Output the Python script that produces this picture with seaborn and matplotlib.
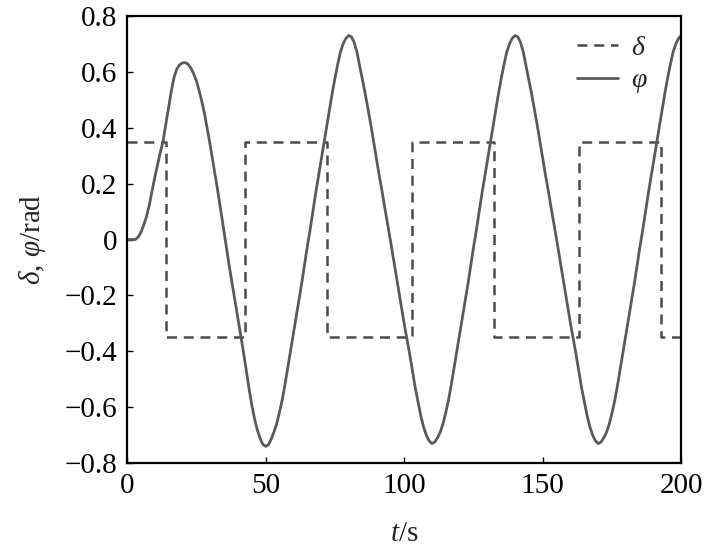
import numpy as np
import pandas as pd
import matplotlib
matplotlib.use("Agg")
import matplotlib.pyplot as plt
import seaborn as sns

# rudder angle: switching times (s) and levels (rad), step-wise
delta_t = [0, 14.0, 42.6, 72.3, 102.8, 132.5, 163.0, 192.8, 200]
delta_v = [0.35, -0.35, 0.35, -0.35, 0.35, -0.35, 0.35, -0.35, -0.35]

# heading angle, every 1 s (t = 0..200)
phi_t = list(range(0, 201))
phi_v = [
    0.0, 0.0, 0.0, 0.0, 0.008, 0.025, 0.05, 0.08, 0.12, 0.17,
    0.22, 0.265, 0.31, 0.35, 0.41, 0.47, 0.53, 0.58, 0.61, 0.625,
    0.632, 0.633, 0.628, 0.615, 0.595, 0.57, 0.535, 0.495, 0.45, 0.395,
    0.34, 0.28, 0.22, 0.16, 0.095, 0.03, -0.035, -0.1, -0.16, -0.22,
    -0.28, -0.34, -0.40, -0.465, -0.53, -0.59, -0.64, -0.68, -0.71, -0.733,
    -0.74, -0.735, -0.715, -0.69, -0.66, -0.62, -0.575, -0.52, -0.46, -0.40,
    -0.34, -0.28, -0.22, -0.16, -0.095, -0.03, 0.03, 0.095, 0.16, 0.22,
    0.28, 0.34, 0.40, 0.46, 0.52, 0.575, 0.625, 0.67, 0.70, 0.72,
    0.73, 0.725, 0.705, 0.67, 0.62, 0.57, 0.52, 0.465, 0.41, 0.35,
    0.29, 0.23, 0.175, 0.115, 0.058, 0.0, -0.06, -0.12, -0.18, -0.24,
    -0.30, -0.355, -0.41, -0.47, -0.53, -0.58, -0.63, -0.67, -0.70, -0.72,
    -0.73, -0.725, -0.71, -0.69, -0.66, -0.62, -0.575, -0.52, -0.46, -0.40,
    -0.34, -0.28, -0.22, -0.16, -0.095, -0.03, 0.03, 0.095, 0.16, 0.22,
    0.28, 0.34, 0.40, 0.46, 0.52, 0.575, 0.625, 0.67, 0.70, 0.72,
    0.73, 0.725, 0.705, 0.67, 0.62, 0.57, 0.52, 0.465, 0.41, 0.35,
    0.29, 0.23, 0.175, 0.115, 0.058, 0.0, -0.06, -0.12, -0.18, -0.24,
    -0.30, -0.355, -0.41, -0.47, -0.53, -0.58, -0.63, -0.67, -0.70, -0.72,
    -0.73, -0.725, -0.71, -0.69, -0.66, -0.62, -0.575, -0.52, -0.46, -0.40,
    -0.34, -0.28, -0.22, -0.16, -0.095, -0.03, 0.03, 0.095, 0.16, 0.22,
    0.28, 0.34, 0.40, 0.46, 0.52, 0.575, 0.625, 0.67, 0.70, 0.72,
    0.73,
]

x_ticks = [0, 50, 100, 150, 200]
y_ticks = [-0.8, -0.6, -0.4, -0.2, 0, 0.2, 0.4, 0.6, 0.8]
y_ticklabels = ["\u22120.8", "\u22120.6", "\u22120.4", "\u22120.2", "0",
                "0.2", "0.4", "0.6", "0.8"]

sns.set_theme(style="white")
plt.rcParams["font.family"] = ["Liberation Serif", "DejaVu Serif"]
plt.rcParams["mathtext.fontset"] = "custom"
plt.rcParams["mathtext.rm"] = "Liberation Serif"
plt.rcParams["mathtext.it"] = "Liberation Serif:italic"

df_delta = pd.DataFrame({"t": delta_t, "v": delta_v})
df_phi = pd.DataFrame({"t": phi_t, "v": phi_v})

fig = plt.figure(figsize=(7.09, 5.5), dpi=100)
ax = fig.add_axes([0.179, 0.158, 0.782, 0.813])

sns.lineplot(data=df_delta, x="t", y="v", ax=ax, color="#4a4a4a",
             linewidth=1.8, linestyle=(0, (4.0, 2.7)),
             drawstyle="steps-post", label=r"$\delta$")
sns.lineplot(data=df_phi, x="t", y="v", ax=ax, color="#5a5a5a",
             linewidth=2.0, label=r"$\varphi$")

ax.set_xlim(0, 200)
ax.set_ylim(-0.8, 0.8)
ax.set_xticks(x_ticks)
ax.set_xticklabels([str(v) for v in x_ticks])
ax.set_yticks(y_ticks)
ax.set_yticklabels(y_ticklabels)
ax.tick_params(direction="in", length=4, width=1, colors="black",
               labelsize=21, pad=7, bottom=True, left=True)

for s in ax.spines.values():
    s.set_color("black")
    s.set_linewidth(1.6)

ax.set_xlabel(r"$t$/s", fontsize=21, labelpad=16)
ax.set_ylabel(r"$\delta$, $\varphi$/rad", fontsize=21, labelpad=12)

leg = ax.legend(loc="upper right", bbox_to_anchor=(0.975, 1.0),
                frameon=False, fontsize=20,
                handlelength=1.45, handletextpad=0.5, labelspacing=0.25,
                borderaxespad=0.3)

fig.savefig("out.png", dpi=100)
